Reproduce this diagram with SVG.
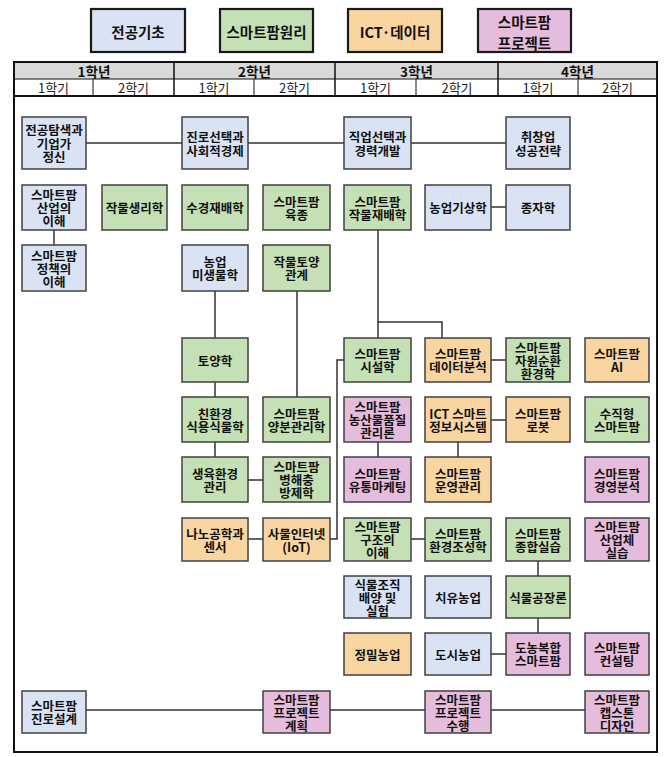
<svg xmlns="http://www.w3.org/2000/svg" width="668" height="757" viewBox="0 0 668 757">
<style>
  text { font-family: "Noto Sans CJK KR", "Noto Sans", sans-serif; text-anchor: middle; dominant-baseline: central; fill: #111; }
  .n rect { stroke: #404040; stroke-width: 1.5; }
  .n text { font-size: 12.5px; font-weight: bold; }
  .lg rect { stroke: #1a1a1a; stroke-width: 2.2; }
  .lg text { font-size: 14.5px; font-weight: bold; }
  .b { fill: #dae3f3; }
  .g { fill: #c5e0b4; }
  .o { fill: #f9d5a2; }
  .p { fill: #e6bcdc; }
  .yr { font-size: 13.5px; font-weight: bold; }
  .sm { font-size: 13px; font-weight: normal; fill: #222; }
  .con { stroke: #333; stroke-width: 1.5; fill: none; }
</style>
<rect width="668" height="757" fill="#fff"/>

<g id="legend">
  <g class="lg" id="lg-basic"><rect class="b" x="91" y="9" width="94" height="43"/><text x="138" y="31">전공기초</text></g>
  <g class="lg" id="lg-principle"><rect class="g" x="220" y="9" width="93" height="43"/><text x="266.5" y="31">스마트팜원리</text></g>
  <g class="lg" id="lg-ict"><rect class="o" x="348" y="9" width="94" height="43"/><text x="395" y="31">ICT·데이터</text></g>
  <g class="lg" id="lg-project"><rect class="p" x="478" y="9" width="93" height="43"/><text x="524.5" y="21">스마트팜</text><text x="524.5" y="42">프로젝트</text></g>
</g>

<g id="table">
  <rect x="14" y="62" width="643" height="17" fill="#d9d9d9"/>
  <rect x="14" y="62" width="643" height="690" fill="none" stroke="#111" stroke-width="2"/>
  <line x1="14" y1="79" x2="657" y2="79" stroke="#111" stroke-width="1"/>
  <line x1="14" y1="96" x2="657" y2="96" stroke="#111" stroke-width="2"/>
  <g stroke="#111" stroke-width="1.5">
    <line x1="174" y1="62" x2="174" y2="96"/>
    <line x1="335" y1="62" x2="335" y2="96"/>
    <line x1="498" y1="62" x2="498" y2="96"/>
  </g>
  <g stroke="#111" stroke-width="1">
    <line x1="93" y1="79" x2="93" y2="96"/>
    <line x1="254" y1="79" x2="254" y2="96"/>
    <line x1="416" y1="79" x2="416" y2="96"/>
    <line x1="578" y1="79" x2="578" y2="96"/>
  </g>
  <text class="yr" x="94" y="70.5">1학년</text>
  <text class="yr" x="254.5" y="70.5">2학년</text>
  <text class="yr" x="416.5" y="70.5">3학년</text>
  <text class="yr" x="577.5" y="70.5">4학년</text>
  <text class="sm" x="53.5" y="87.5">1학기</text>
  <text class="sm" x="133.5" y="87.5">2학기</text>
  <text class="sm" x="214" y="87.5">1학기</text>
  <text class="sm" x="294.5" y="87.5">2학기</text>
  <text class="sm" x="375.5" y="87.5">1학기</text>
  <text class="sm" x="457" y="87.5">2학기</text>
  <text class="sm" x="538" y="87.5">1학기</text>
  <text class="sm" x="617.5" y="87.5">2학기</text>
</g>

<g id="connectors" class="con">
  <path d="M86 143H182M248 143H344M411 143H506"/>
  <path d="M54 230V245"/>
  <path d="M491 207H506"/>
  <path d="M215 291V338M215 382V397M215 442V457"/>
  <path d="M297 291V397"/>
  <path d="M248 480H263"/>
  <path d="M378 230V338M378 322H442V338"/>
  <path d="M344 360H337V539H330"/>
  <path d="M491 360H506"/>
  <path d="M491 420H506"/>
  <path d="M378 442V457"/>
  <path d="M458 442V457"/>
  <path d="M248 539H263"/>
  <path d="M411 539H425"/>
  <path d="M538 561V576M538 618V633"/>
  <path d="M491 654H506"/>
  <path d="M86 710H263M330 710H425M491 710H585"/>
</g>

<g id="nodes" class="n">
  <g id="n-major-explore"><rect class="b" x="22" y="117" width="64" height="52"/><text x="54" y="129.5">전공탐색과</text><text x="54" y="143">기업가</text><text x="54" y="156.5">정신</text></g>
  <g id="n-career-social"><rect class="b" x="182" y="117" width="66" height="52"/><text x="215" y="136">진로선택과</text><text x="215" y="150">사회적경제</text></g>
  <g id="n-job-career"><rect class="b" x="344" y="117" width="67" height="52"/><text x="377.5" y="136">직업선택과</text><text x="377.5" y="150">경력개발</text></g>
  <g id="n-startup"><rect class="b" x="506" y="117" width="64" height="52"/><text x="538" y="136">취창업</text><text x="538" y="150">성공전략</text></g>

  <g id="n-sf-industry"><rect class="b" x="22" y="185" width="64" height="45"/><text x="54" y="194.5">스마트팜</text><text x="54" y="207.5">산업의</text><text x="54" y="220.5">이해</text></g>
  <g id="n-crop-physiology"><rect class="g" x="102" y="185" width="65" height="45"/><text x="134.5" y="207.5">작물생리학</text></g>
  <g id="n-hydroponics"><rect class="g" x="182" y="185" width="66" height="45"/><text x="215" y="207.5">수경재배학</text></g>
  <g id="n-sf-breeding"><rect class="g" x="263" y="185" width="67" height="45"/><text x="296.5" y="201">스마트팜</text><text x="296.5" y="214">육종</text></g>
  <g id="n-sf-cultivation"><rect class="g" x="344" y="185" width="67" height="45"/><text x="377.5" y="201">스마트팜</text><text x="377.5" y="214">작물재배학</text></g>
  <g id="n-agri-meteo"><rect class="b" x="425" y="185" width="66" height="45"/><text x="458" y="207.5">농업기상학</text></g>
  <g id="n-seed"><rect class="b" x="506" y="185" width="64" height="45"/><text x="538" y="207.5">종자학</text></g>

  <g id="n-sf-policy"><rect class="b" x="22" y="245" width="64" height="46"/><text x="54" y="255">스마트팜</text><text x="54" y="268">정책의</text><text x="54" y="281">이해</text></g>
  <g id="n-agri-micro"><rect class="b" x="182" y="245" width="66" height="46"/><text x="215" y="261.5">농업</text><text x="215" y="274.5">미생물학</text></g>
  <g id="n-crop-soil"><rect class="g" x="263" y="245" width="67" height="46"/><text x="296.5" y="261.5">작물토양</text><text x="296.5" y="274.5">관계</text></g>

  <g id="n-soil"><rect class="g" x="182" y="338" width="66" height="44"/><text x="215" y="360">토양학</text></g>
  <g id="n-sf-facility"><rect class="g" x="344" y="338" width="67" height="44"/><text x="377.5" y="353.5">스마트팜</text><text x="377.5" y="366.5">시설학</text></g>
  <g id="n-sf-data"><rect class="o" x="425" y="338" width="66" height="44"/><text x="458" y="353.5">스마트팜</text><text x="458" y="366.5">데이터분석</text></g>
  <g id="n-sf-recycle"><rect class="g" x="506" y="338" width="64" height="44"/><text x="538" y="347">스마트팜</text><text x="538" y="360">자원순환</text><text x="538" y="373">환경학</text></g>
  <g id="n-sf-ai"><rect class="o" x="585" y="338" width="64" height="44"/><text x="617" y="353.5">스마트팜</text><text x="617" y="366.5">AI</text></g>

  <g id="n-eco-plant"><rect class="g" x="182" y="397" width="66" height="45"/><text x="215" y="413">친환경</text><text x="215" y="426">식용식물학</text></g>
  <g id="n-sf-nutrient"><rect class="g" x="263" y="397" width="67" height="45"/><text x="296.5" y="413">스마트팜</text><text x="296.5" y="426">양분관리학</text></g>
  <g id="n-sf-quality"><rect class="p" x="344" y="397" width="67" height="45"/><text x="377.5" y="406.5">스마트팜</text><text x="377.5" y="419.5">농산물품질</text><text x="377.5" y="432.5">관리론</text></g>
  <g id="n-ict-info"><rect class="o" x="425" y="397" width="66" height="45"/><text x="458" y="413">ICT 스마트</text><text x="458" y="426">정보시스템</text></g>
  <g id="n-sf-robot"><rect class="o" x="506" y="397" width="64" height="45"/><text x="538" y="413">스마트팜</text><text x="538" y="426">로봇</text></g>
  <g id="n-vertical"><rect class="g" x="585" y="397" width="64" height="45"/><text x="617" y="413">수직형</text><text x="617" y="426">스마트팜</text></g>

  <g id="n-growth-env"><rect class="g" x="182" y="457" width="66" height="45"/><text x="215" y="473">생육환경</text><text x="215" y="486">관리</text></g>
  <g id="n-sf-pest"><rect class="g" x="263" y="457" width="67" height="45"/><text x="296.5" y="466.5">스마트팜</text><text x="296.5" y="479.5">병해충</text><text x="296.5" y="492.5">방제학</text></g>
  <g id="n-sf-marketing"><rect class="p" x="344" y="457" width="67" height="45"/><text x="377.5" y="473">스마트팜</text><text x="377.5" y="486">유통마케팅</text></g>
  <g id="n-sf-operation"><rect class="o" x="425" y="457" width="66" height="45"/><text x="458" y="473">스마트팜</text><text x="458" y="486">운영관리</text></g>
  <g id="n-sf-management"><rect class="p" x="585" y="457" width="64" height="45"/><text x="617" y="473">스마트팜</text><text x="617" y="486">경영분석</text></g>

  <g id="n-nano"><rect class="o" x="182" y="518" width="66" height="43"/><text x="215" y="533">나노공학과</text><text x="215" y="546">센서</text></g>
  <g id="n-iot"><rect class="o" x="263" y="518" width="67" height="43"/><text x="296.5" y="533">사물인터넷</text><text x="296.5" y="546">(IoT)</text></g>
  <g id="n-sf-structure"><rect class="g" x="344" y="518" width="67" height="43"/><text x="377.5" y="526.5">스마트팜</text><text x="377.5" y="539.5">구조의</text><text x="377.5" y="552.5">이해</text></g>
  <g id="n-sf-env-control"><rect class="g" x="425" y="518" width="66" height="43"/><text x="458" y="533">스마트팜</text><text x="458" y="546">환경조성학</text></g>
  <g id="n-sf-practice"><rect class="g" x="506" y="518" width="64" height="43"/><text x="538" y="533">스마트팜</text><text x="538" y="546">종합실습</text></g>
  <g id="n-sf-intern"><rect class="p" x="585" y="518" width="64" height="43"/><text x="617" y="526.5">스마트팜</text><text x="617" y="539.5">산업체</text><text x="617" y="552.5">실습</text></g>

  <g id="n-tissue"><rect class="b" x="344" y="576" width="67" height="42"/><text x="377.5" y="584">식물조직</text><text x="377.5" y="597">배양 및</text><text x="377.5" y="610">실험</text></g>
  <g id="n-healing"><rect class="b" x="425" y="576" width="66" height="42"/><text x="458" y="597">치유농업</text></g>
  <g id="n-plant-factory"><rect class="g" x="506" y="576" width="64" height="42"/><text x="538" y="597">식물공장론</text></g>

  <g id="n-precision"><rect class="o" x="344" y="633" width="67" height="42"/><text x="377.5" y="654">정밀농업</text></g>
  <g id="n-urban"><rect class="b" x="425" y="633" width="66" height="42"/><text x="458" y="654">도시농업</text></g>
  <g id="n-urban-rural"><rect class="p" x="506" y="633" width="64" height="42"/><text x="538" y="647.5">도농복합</text><text x="538" y="660.5">스마트팜</text></g>
  <g id="n-sf-consulting"><rect class="p" x="585" y="633" width="64" height="42"/><text x="617" y="647.5">스마트팜</text><text x="617" y="660.5">컨설팅</text></g>

  <g id="n-sf-career-design"><rect class="b" x="22" y="691" width="64" height="42"/><text x="54" y="705.5">스마트팜</text><text x="54" y="718.5">진로설계</text></g>
  <g id="n-sf-proj-plan"><rect class="p" x="263" y="691" width="67" height="42"/><text x="296.5" y="699">스마트팜</text><text x="296.5" y="712">프로젝트</text><text x="296.5" y="725">계획</text></g>
  <g id="n-sf-proj-exec"><rect class="p" x="425" y="691" width="66" height="42"/><text x="458" y="699">스마트팜</text><text x="458" y="712">프로젝트</text><text x="458" y="725">수행</text></g>
  <g id="n-sf-capstone"><rect class="p" x="585" y="691" width="64" height="42"/><text x="617" y="699">스마트팜</text><text x="617" y="712">캡스톤</text><text x="617" y="725">디자인</text></g>
</g>
</svg>
